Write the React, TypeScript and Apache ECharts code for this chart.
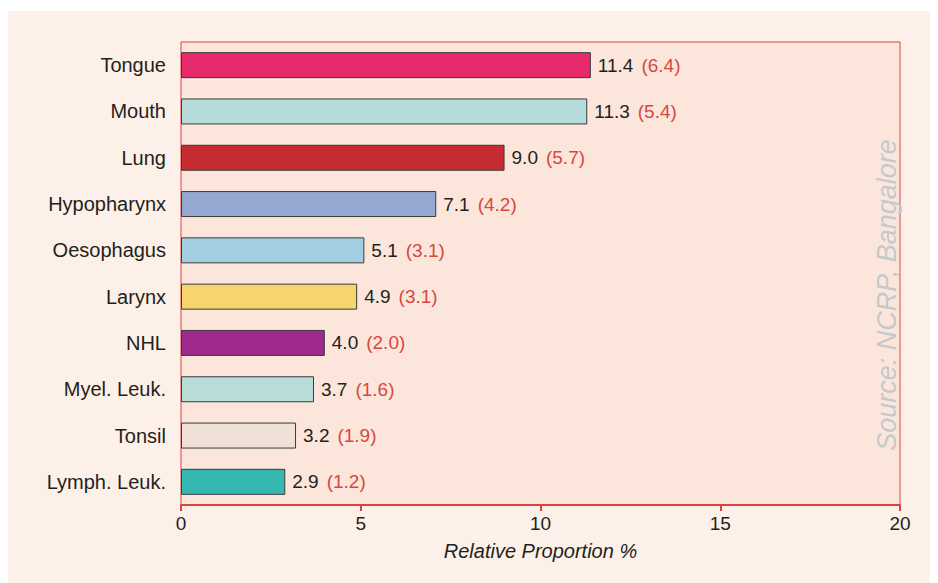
import React, { useEffect, useRef } from "react";
import * as echarts from "echarts";

const categories = ["Tongue", "Mouth", "Lung", "Hypopharynx", "Oesophagus", "Larynx", "NHL", "Myel. Leuk.", "Tonsil", "Lymph. Leuk."];
const values = [11.4, 11.3, 9.0, 7.1, 5.1, 4.9, 4.0, 3.7, 3.2, 2.9];
const secondary = [6.4, 5.4, 5.7, 4.2, 3.1, 3.1, 2.0, 1.6, 1.9, 1.2];
const barColors = ["#e62a6b", "#b5dcdb", "#c62b32", "#94a8d2", "#a3cfe3", "#f6d46e", "#9e2b8b", "#b8dcd8", "#f0e1d8", "#36b8b2"];
const xTicks = [0, 5, 10, 15, 20];

const FONT = "'Liberation Sans', Arial, Helvetica, sans-serif";

export default function App() {
  const ref = useRef<HTMLDivElement>(null);
  useEffect(() => {
    if (!ref.current) return;
    const chart = echarts.init(ref.current, undefined, { renderer: "svg" });
    chart.setOption({
      animation: false,
      textStyle: { fontFamily: FONT },
      graphic: [
        { type: "rect", z: -10, silent: true, shape: { x: 0, y: 3, width: 930, height: 572 }, style: { fill: "#fdf0e8" } },
        {
          type: "text",
          z: 10,
          x: 879,
          y: 287,
          rotation: Math.PI / 2,
          style: {
            text: "Source: NCRP, Bangalore",
            fill: "#c4c9cc",
            font: `italic 27px ${FONT}`,
            align: "center",
            verticalAlign: "middle",
          },
        },
      ],
      grid: {
        left: 173,
        top: 34,
        right: 38,
        bottom: 78,
        show: true,
        backgroundColor: "#fce6dc",
        borderColor: "#d9463c",
        borderWidth: 1,
      },
      xAxis: {
        type: "value",
        min: xTicks[0],
        max: xTicks[xTicks.length - 1],
        interval: 5,
        splitLine: { show: false },
        axisLine: { show: true, lineStyle: { color: "#d9463c", width: 2 } },
        axisTick: { show: true, length: 6, lineStyle: { color: "#d9463c", width: 2 } },
        axisLabel: { color: "#231f20", fontSize: 19, margin: 9, fontFamily: FONT },
        name: "Relative Proportion %",
        nameLocation: "middle",
        nameGap: 36,
        nameTextStyle: { color: "#231f20", fontSize: 20, fontStyle: "italic", fontFamily: FONT },
      },
      yAxis: {
        type: "category",
        data: categories,
        inverse: true,
        axisLine: { show: false },
        axisTick: { show: false },
        axisLabel: { color: "#231f20", fontSize: 20, margin: 15, fontFamily: FONT },
      },
      series: [
        {
          type: "bar",
          barWidth: 26,
          data: values.map((v, i) => ({
            value: v,
            itemStyle: { color: barColors[i], borderColor: "#3a3a3a", borderWidth: 1 },
          })),
          label: {
            show: true,
            position: "right",
            distance: 7,
            formatter: (p: any) => `{a|${values[p.dataIndex].toFixed(1)}}{b|(${secondary[p.dataIndex].toFixed(1)})}`,
            rich: {
              a: { color: "#231f20", fontSize: 19, fontFamily: FONT, padding: [0, 8, 0, 0] },
              b: { color: "#d9463c", fontSize: 19, fontFamily: FONT },
            },
          },
        },
      ],
    });
    return () => chart.dispose();
  }, []);
  return <div ref={ref} style={{ width: 930, height: 575 }} />;
}
